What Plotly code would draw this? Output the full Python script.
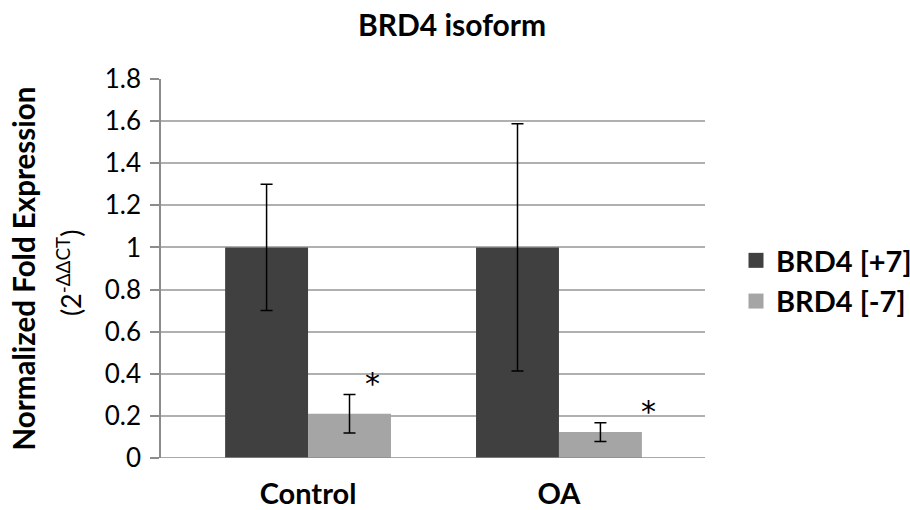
import plotly.graph_objects as go

categories = ["Control", "OA"]
series_names = ["BRD4 [+7]", "BRD4 [-7]"]
series_colors = ["#404040", "#A5A5A5"]
brd4_plus7 = [1.0, 1.0]
brd4_plus7_err = [0.30, 0.587]
brd4_minus7 = [0.21, 0.123]
brd4_minus7_err = [0.091, 0.045]
star_x_offset = [0.255, 0.355]
star_y = [0.355, 0.22]
y_ticks = [0, 0.2, 0.4, 0.6, 0.8, 1.0, 1.2, 1.4, 1.6, 1.8]
y_tick_text = ["0", "0.2", "0.4", "0.6", "0.8", "1", "1.2", "1.4", "1.6", "1.8"]

FONT = "Lato"
xpos = list(range(len(categories)))

fig = go.Figure()
for vals, errs, color in [(brd4_plus7, brd4_plus7_err, series_colors[0]),
                          (brd4_minus7, brd4_minus7_err, series_colors[1])]:
    fig.add_trace(go.Bar(
        x=xpos, y=vals, showlegend=False,
        marker=dict(color=color, line=dict(width=0)),
        error_y=dict(type="data", array=errs, color="black", thickness=1.5, width=6),
    ))
# legend entries with larger square swatches
for name, color in zip(series_names, series_colors):
    fig.add_trace(go.Scatter(
        x=[None], y=[None], mode="markers", name="<b>%s</b>" % name,
        marker=dict(symbol="square", size=15, color=color),
    ))

for i in range(len(categories)):
    fig.add_annotation(x=xpos[i] + star_x_offset[i], y=star_y[i], text="*", showarrow=False,
                       font=dict(family="DejaVu Sans", size=30, color="black"),
                       xanchor="center", yanchor="middle")

fig.add_annotation(xref="paper", yref="paper", x=-0.252, y=0.5, text="<b>Normalized Fold Expression</b>",
                   textangle=-90, showarrow=False, xanchor="center", yanchor="middle",
                   font=dict(family=FONT, size=29.5, color="black"))
fig.add_annotation(xref="paper", yref="paper", x=-0.169, y=0.488, text="(2<sup>-ΔΔCT</sup>)",
                   textangle=-90, showarrow=False, xanchor="center", yanchor="middle",
                   font=dict(family=FONT, size=27, color="black"))

fig.update_layout(
    width=910, height=510,
    margin=dict(l=161, r=205, t=79, b=52),
    paper_bgcolor="white", plot_bgcolor="white",
    barmode="group", bargap=0.339, bargroupgap=0,
    title=dict(text="<b>BRD4 isoform</b>", x=452 / 910, xref="container", xanchor="center",
               y=0.95, yanchor="middle",
               font=dict(family=FONT, size=30, color="black")),
    xaxis=dict(range=[-0.586, 1.582], tickvals=xpos,
               ticktext=["<b>%s</b>" % c for c in categories],
               tickfont=dict(family=FONT, size=29, color="black"),
               ticklabelstandoff=16, automargin=False,
               showgrid=False, zeroline=False, showline=False, ticks=""),
    yaxis=dict(range=[0, 1.8], tickvals=y_ticks, ticktext=y_tick_text,
               tickfont=dict(family=FONT, size=26, color="black"),
               ticklabelstandoff=4, automargin=False,
               showgrid=True, gridcolor="#B0B0B0", gridwidth=1.5,
               showline=True, linecolor="#8C8C8C", linewidth=1.5,
               ticks="outside", ticklen=9, tickcolor="#8C8C8C", tickwidth=1.5,
               zeroline=False),
    legend=dict(xref="container", yref="container", x=736 / 910, xanchor="left",
                y=1 - 281 / 510, yanchor="middle",
                font=dict(family=FONT, size=29, color="black"),
                itemwidth=30, tracegroupgap=0, traceorder="normal"),
    showlegend=True,
)
fig.add_hline(y=0, line=dict(color="#8C8C8C", width=1.5))

fig.write_html("out.html")
